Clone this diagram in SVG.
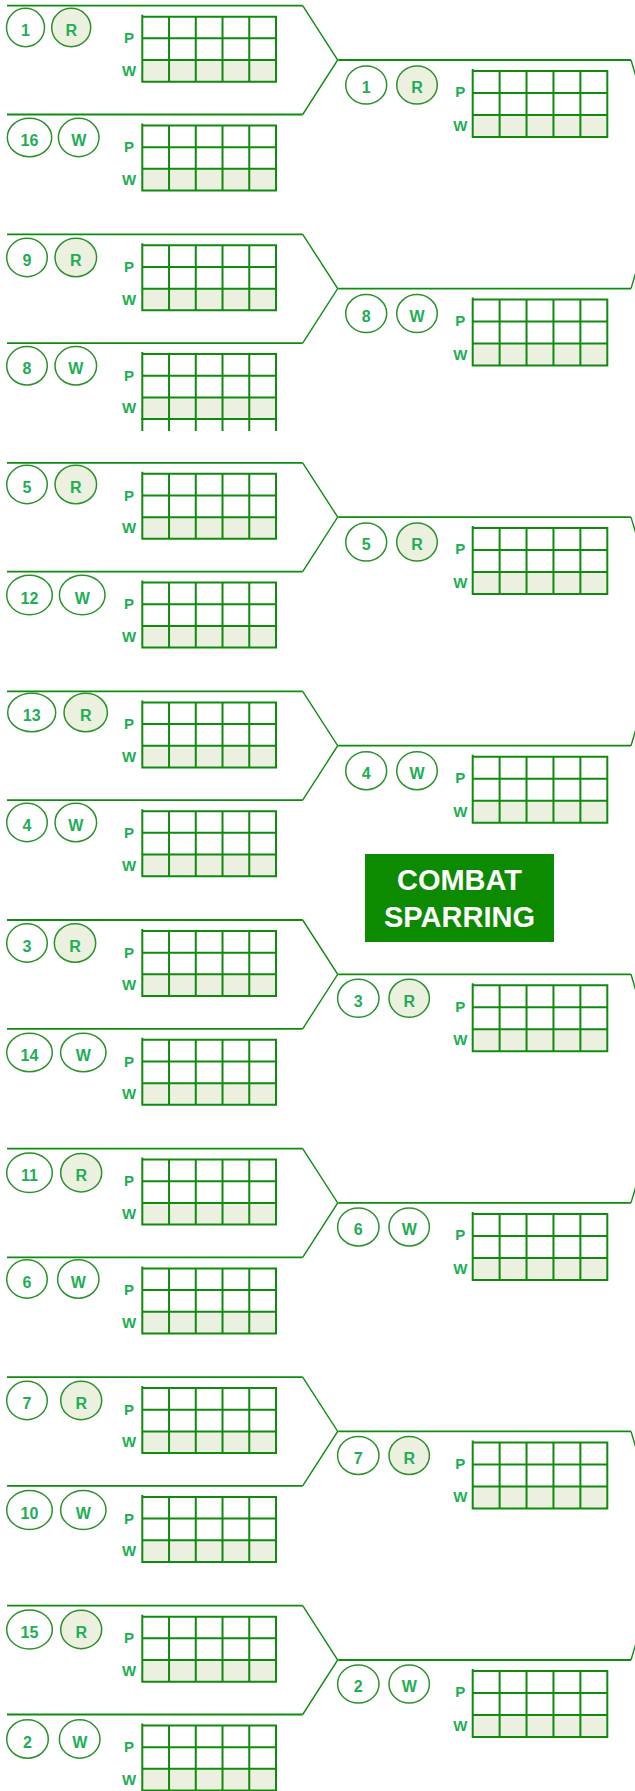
<svg xmlns="http://www.w3.org/2000/svg" width="635" height="1791" viewBox="0 0 635 1791">
<style>
.h{stroke:#108b10;stroke-width:1.8;fill:none}
.d{stroke:#108b10;stroke-width:1.4;fill:none}
.gl{stroke:#108b10;stroke-width:2;fill:none;stroke-linecap:square}
.wf{fill:#ecf0e0}
.n{fill:#fff;stroke:#2b922b;stroke-width:1.5}
.r{fill:#ebf0df;stroke:#2b922b;stroke-width:1.5}
.t{font-family:"Liberation Sans",Arial,sans-serif;font-weight:bold;font-size:16px;fill:#1eae55;text-anchor:middle}
.l{font-family:"Liberation Sans",Arial,sans-serif;font-weight:bold;font-size:15px;fill:#1eae55;text-anchor:middle}
.bt{font-family:"Liberation Sans",Arial,sans-serif;font-weight:bold;font-size:29px;fill:#fff;text-anchor:middle}
</style>
<defs>
<g id="grid1">
<rect class="wf" x="0" y="43.33" width="133.7" height="21.67"/>
<path class="gl" d="M0 -1V65M26.74 0V65M53.48 0V65M80.22 0V65M106.96 0V65M133.7 0V65M0 0H133.7M0 21.67H133.7M0 43.33H133.7M0 65H133.7"/>
</g>
<g id="grid2">
<rect class="wf" x="0" y="44" width="134.6" height="22"/>
<path class="gl" d="M0 -1V66M26.92 0V66M53.84 0V66M80.76 0V66M107.68 0V66M134.6 0V66M0 0H134.6M0 22H134.6M0 44H134.6M0 66H134.6"/>
</g>
</defs>
<rect width="635" height="1791" fill="#fff"/>
<g id="connectors">
<path class="h" d="M7 5.7H302.7M7 114.5H302.7M7 234.3H302.7M7 343.1H302.7M7 462.8H302.7M7 571.6H302.7M7 691.4H302.7M7 800.2H302.7M7 920H302.7M7 1028.8H302.7M7 1148.6H302.7M7 1257.4H302.7M7 1377.1H302.7M7 1485.9H302.7M7 1605.7H302.7M7 1714.5H302.7"/>
<path class="d" d="M302.7 5.7L337.7 60L302.7 114.5M302.7 234.3L337.7 288.6L302.7 343.1M302.7 462.8L337.7 517.1L302.7 571.6M302.7 691.4L337.7 745.7L302.7 800.2M302.7 920L337.7 974.3L302.7 1028.8M302.7 1148.6L337.7 1202.9L302.7 1257.4M302.7 1377.1L337.7 1431.4L302.7 1485.9M302.7 1605.7L337.7 1660L302.7 1714.5"/>
<path class="h" d="M338.3 60H631M338.3 288.6H631M338.3 517.1H631M338.3 745.7H631M338.3 974.3H631M338.3 1202.9H631M338.3 1431.4H631M338.3 1660H631"/>
<path class="d" d="M631 60l34 114M631 288.6l34 -114M631 517.1l34 114M631 745.7l34 -114M631 974.3l34 114M631 1202.9l34 -114M631 1431.4l34 114M631 1660l34 -114"/>
</g>
<g id="r1-1"><ellipse class="n" cx="25.5" cy="27.5" rx="19" ry="19.2"/><text class="t" x="25.5" y="36">1</text><ellipse class="r" cx="71.2" cy="27.5" rx="19.5" ry="19.2"/><text class="t" x="71.2" y="36">R</text><use href="#grid1" x="142.3" y="16.7"/><text class="l" x="129" y="43.4">P</text><text class="l" x="129" y="76">W</text></g>
<g id="r1-16"><ellipse class="n" cx="29.5" cy="137.5" rx="22.2" ry="19.2"/><text class="t" x="29.5" y="146">16</text><ellipse class="n" cx="78.7" cy="137.5" rx="20.3" ry="19.2"/><text class="t" x="78.7" y="146">W</text><use href="#grid1" x="142.3" y="125.5"/><text class="l" x="129" y="152.2">P</text><text class="l" x="129" y="184.8">W</text></g>
<g id="r1-9"><ellipse class="n" cx="27" cy="257.5" rx="20.3" ry="19.2"/><text class="t" x="27" y="266">9</text><ellipse class="r" cx="75.8" cy="257.5" rx="20.8" ry="19.2"/><text class="t" x="75.8" y="266">R</text><use href="#grid1" x="142.3" y="245.3"/><text class="l" x="129" y="272">P</text><text class="l" x="129" y="304.6">W</text></g>
<g id="r1-8"><ellipse class="n" cx="27" cy="365.8" rx="20.3" ry="19.2"/><text class="t" x="27" y="374.3">8</text><ellipse class="n" cx="75.8" cy="365.8" rx="20.8" ry="19.2"/><text class="t" x="75.8" y="374.3">W</text><use href="#grid1" x="142.3" y="354.1"/><path class="gl" d="M142.3 419.1V430M169.04 419.1V430M195.78 419.1V430M222.52 419.1V430M249.26 419.1V430M276 419.1V430"/><text class="l" x="129" y="380.8">P</text><text class="l" x="129" y="413.4">W</text></g>
<g id="r1-5"><ellipse class="n" cx="27" cy="484.5" rx="20.3" ry="19.2"/><text class="t" x="27" y="493">5</text><ellipse class="r" cx="75.8" cy="484.5" rx="20.8" ry="19.2"/><text class="t" x="75.8" y="493">R</text><use href="#grid1" x="142.3" y="473.8"/><text class="l" x="129" y="500.5">P</text><text class="l" x="129" y="533.1">W</text></g>
<g id="r1-12"><ellipse class="n" cx="29.5" cy="595" rx="22.8" ry="19.8"/><text class="t" x="29.5" y="603.5">12</text><ellipse class="n" cx="82.2" cy="595" rx="22.8" ry="19.8"/><text class="t" x="82.2" y="603.5">W</text><use href="#grid1" x="142.3" y="582.6"/><text class="l" x="129" y="609.3">P</text><text class="l" x="129" y="641.9">W</text></g>
<g id="r1-13"><ellipse class="n" cx="31.7" cy="712.5" rx="24" ry="19.2"/><text class="t" x="31.7" y="721">13</text><ellipse class="r" cx="85.7" cy="712.5" rx="21.7" ry="19.2"/><text class="t" x="85.7" y="721">R</text><use href="#grid1" x="142.3" y="702.4"/><text class="l" x="129" y="729.1">P</text><text class="l" x="129" y="761.7">W</text></g>
<g id="r1-4"><ellipse class="n" cx="27" cy="822.5" rx="20.3" ry="19.2"/><text class="t" x="27" y="831">4</text><ellipse class="n" cx="75.8" cy="822.5" rx="20.8" ry="19.2"/><text class="t" x="75.8" y="831">W</text><use href="#grid1" x="142.3" y="811.2"/><text class="l" x="129" y="837.9">P</text><text class="l" x="129" y="870.5">W</text></g>
<g id="r1-3"><ellipse class="n" cx="27" cy="943" rx="20.3" ry="19.2"/><text class="t" x="27" y="951.5">3</text><ellipse class="r" cx="75" cy="943" rx="20.7" ry="19.2"/><text class="t" x="75" y="951.5">R</text><use href="#grid1" x="142.3" y="931"/><text class="l" x="129" y="957.7">P</text><text class="l" x="129" y="990.3">W</text></g>
<g id="r1-14"><ellipse class="n" cx="29.5" cy="1052.5" rx="22.8" ry="19.2"/><text class="t" x="29.5" y="1061">14</text><ellipse class="n" cx="83.3" cy="1052.5" rx="22.7" ry="19.2"/><text class="t" x="83.3" y="1061">W</text><use href="#grid1" x="142.3" y="1039.8"/><text class="l" x="129" y="1066.5">P</text><text class="l" x="129" y="1099.1">W</text></g>
<g id="r1-11"><ellipse class="n" cx="29.5" cy="1172.7" rx="22.8" ry="19.8"/><text class="t" x="29.5" y="1181.2">11</text><ellipse class="r" cx="81.2" cy="1172.7" rx="20.5" ry="19.2"/><text class="t" x="81.2" y="1181.2">R</text><use href="#grid1" x="142.3" y="1159.6"/><text class="l" x="129" y="1186.3">P</text><text class="l" x="129" y="1218.9">W</text></g>
<g id="r1-6"><ellipse class="n" cx="27" cy="1279" rx="20.3" ry="19.2"/><text class="t" x="27" y="1287.5">6</text><ellipse class="n" cx="78.3" cy="1279" rx="20.7" ry="19.2"/><text class="t" x="78.3" y="1287.5">W</text><use href="#grid1" x="142.3" y="1268.4"/><text class="l" x="129" y="1295.1">P</text><text class="l" x="129" y="1327.7">W</text></g>
<g id="r1-7"><ellipse class="n" cx="27" cy="1400.5" rx="20.3" ry="19.2"/><text class="t" x="27" y="1409">7</text><ellipse class="r" cx="81.2" cy="1400.5" rx="20.5" ry="19.2"/><text class="t" x="81.2" y="1409">R</text><use href="#grid1" x="142.3" y="1388.1"/><text class="l" x="129" y="1414.8">P</text><text class="l" x="129" y="1447.4">W</text></g>
<g id="r1-10"><ellipse class="n" cx="29.5" cy="1510" rx="22.8" ry="19.5"/><text class="t" x="29.5" y="1518.5">10</text><ellipse class="n" cx="83.3" cy="1510" rx="22.7" ry="19.5"/><text class="t" x="83.3" y="1518.5">W</text><use href="#grid1" x="142.3" y="1496.9"/><text class="l" x="129" y="1523.6">P</text><text class="l" x="129" y="1556.2">W</text></g>
<g id="r1-15"><ellipse class="n" cx="29.5" cy="1629.5" rx="22.8" ry="19.5"/><text class="t" x="29.5" y="1638">15</text><ellipse class="r" cx="81.2" cy="1629.5" rx="20.5" ry="19.2"/><text class="t" x="81.2" y="1638">R</text><use href="#grid1" x="142.3" y="1616.7"/><text class="l" x="129" y="1643.4">P</text><text class="l" x="129" y="1676">W</text></g>
<g id="r1-2"><ellipse class="n" cx="27.5" cy="1739" rx="20.8" ry="19.2"/><text class="t" x="27.5" y="1747.5">2</text><ellipse class="n" cx="79.7" cy="1739" rx="20.3" ry="19.2"/><text class="t" x="79.7" y="1747.5">W</text><use href="#grid1" x="142.3" y="1725.5"/><text class="l" x="129" y="1752.2">P</text><text class="l" x="129" y="1784.8">W</text></g>
<g id="r2-1"><ellipse class="n" cx="366.2" cy="85" rx="20.5" ry="19"/><text class="t" x="366.2" y="93.3">1</text><ellipse class="r" cx="417" cy="85" rx="20.3" ry="19"/><text class="t" x="417" y="93.3">R</text><use href="#grid2" x="472.7" y="71"/><text class="l" x="460.3" y="97.3">P</text><text class="l" x="460.3" y="131">W</text></g>
<g id="r2-8"><ellipse class="n" cx="366.2" cy="313.6" rx="20.5" ry="19"/><text class="t" x="366.2" y="321.9">8</text><ellipse class="n" cx="417" cy="313.6" rx="20.3" ry="19"/><text class="t" x="417" y="321.9">W</text><use href="#grid2" x="472.7" y="299.6"/><text class="l" x="460.3" y="325.9">P</text><text class="l" x="460.3" y="359.6">W</text></g>
<g id="r2-5"><ellipse class="n" cx="366.2" cy="542.1" rx="20.5" ry="19"/><text class="t" x="366.2" y="550.4">5</text><ellipse class="r" cx="417" cy="542.1" rx="20.3" ry="19"/><text class="t" x="417" y="550.4">R</text><use href="#grid2" x="472.7" y="528.1"/><text class="l" x="460.3" y="554.4">P</text><text class="l" x="460.3" y="588.1">W</text></g>
<g id="r2-4"><ellipse class="n" cx="366.2" cy="770.7" rx="20.5" ry="19"/><text class="t" x="366.2" y="779">4</text><ellipse class="n" cx="417" cy="770.7" rx="20.3" ry="19"/><text class="t" x="417" y="779">W</text><use href="#grid2" x="472.7" y="756.7"/><text class="l" x="460.3" y="783">P</text><text class="l" x="460.3" y="816.7">W</text></g>
<g id="r2-3"><ellipse class="n" cx="358.3" cy="998.3" rx="20.7" ry="19"/><text class="t" x="358.3" y="1006.6">3</text><ellipse class="r" cx="409.2" cy="998.3" rx="20.2" ry="19"/><text class="t" x="409.2" y="1006.6">R</text><use href="#grid2" x="472.7" y="985.3"/><text class="l" x="460.3" y="1011.6">P</text><text class="l" x="460.3" y="1045.3">W</text></g>
<g id="r2-6"><ellipse class="n" cx="358.3" cy="1226.9" rx="20.7" ry="19"/><text class="t" x="358.3" y="1235.2">6</text><ellipse class="n" cx="409.2" cy="1226.9" rx="20.2" ry="19"/><text class="t" x="409.2" y="1235.2">W</text><use href="#grid2" x="472.7" y="1213.9"/><text class="l" x="460.3" y="1240.2">P</text><text class="l" x="460.3" y="1273.9">W</text></g>
<g id="r2-7"><ellipse class="n" cx="358.3" cy="1455.4" rx="20.7" ry="19"/><text class="t" x="358.3" y="1463.7">7</text><ellipse class="r" cx="409.2" cy="1455.4" rx="20.2" ry="19"/><text class="t" x="409.2" y="1463.7">R</text><use href="#grid2" x="472.7" y="1442.4"/><text class="l" x="460.3" y="1468.7">P</text><text class="l" x="460.3" y="1502.4">W</text></g>
<g id="r2-2"><ellipse class="n" cx="358.3" cy="1684" rx="20.7" ry="19"/><text class="t" x="358.3" y="1692.3">2</text><ellipse class="n" cx="409.2" cy="1684" rx="20.2" ry="19"/><text class="t" x="409.2" y="1692.3">W</text><use href="#grid2" x="472.7" y="1671"/><text class="l" x="460.3" y="1697.3">P</text><text class="l" x="460.3" y="1731">W</text></g>
<g id="title"><rect x="365" y="854" width="189" height="88" fill="#0c8a00"/><text class="bt" x="459.5" y="890">COMBAT</text><text class="bt" x="459.5" y="926.7">SPARRING</text></g>
</svg>
